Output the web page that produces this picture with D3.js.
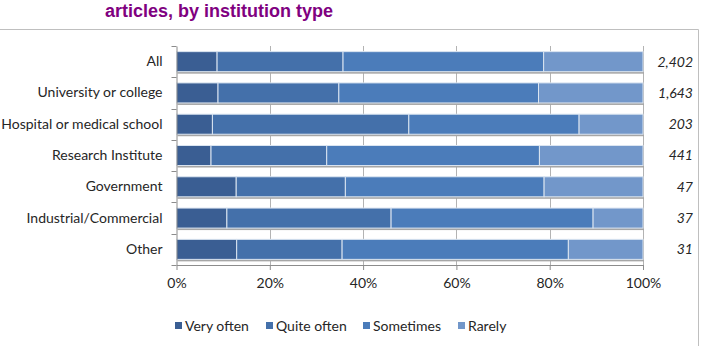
<!DOCTYPE html>
<html>
<head>
<meta charset="utf-8">
<script src="https://cdn.jsdelivr.net/npm/d3@7"></script>
<style>
  body { margin: 0; background: #fff; }
  svg { display: block; }
</style>
</head>
<body>
<div id="chart"></div>
<script>
// data (percent of respondents)
const categories = ["All", "University or college", "Hospital or medical school",
  "Research Institute", "Government", "Industrial/Commercial", "Other"];
const veryOften  = [8.7, 8.9, 7.7, 7.4, 12.8, 10.8, 12.9];
const quiteOften = [27.0, 25.9, 42.1, 24.8, 23.4, 35.2, 22.6];
const sometimes  = [43.0, 42.8, 36.5, 45.6, 42.6, 43.3, 48.5];
const rarely     = [21.3, 22.4, 13.7, 22.2, 21.2, 10.7, 16.0];
const counts     = ["2,402", "1,643", "203", "441", "47", "37", "31"];
const seriesNames = ["Very often", "Quite often", "Sometimes", "Rarely"];
const xTicks = [0, 20, 40, 60, 80, 100];

const width = 701, height = 346;
const plotLeft = 176.5, plotRight = 643, plotTop = 46, plotBottom = 265;
const colors = ["#3a5e93", "#4470aa", "#4b7cba", "#7297ca"];
const labelFont = "Lato, 'Open Sans', sans-serif";

const rows = categories.map((c, i) => ({
  cat: c,
  "Very often": veryOften[i],
  "Quite often": quiteOften[i],
  "Sometimes": sometimes[i],
  "Rarely": rarely[i]
}));

const svg = d3.select("#chart").append("svg")
  .attr("width", width)
  .attr("height", height);

// frame edge of the chart area (top and right border)
svg.append("path")
  .attr("d", "M0,29.5 H698.5 V346")
  .attr("fill", "none")
  .attr("stroke", "#bfbfbf");

// title (first line is cut off in the original)
svg.append("text")
  .attr("x", 105)
  .attr("y", 17)
  .attr("fill", "#800080")
  .style("font-family", "'Liberation Sans', Arial, sans-serif")
  .style("font-weight", "bold")
  .style("font-size", "18px")
  .text("articles, by institution type");

const x = d3.scaleLinear().domain([0, 100]).range([plotLeft, plotRight]);
const y = d3.scaleBand().domain(categories).range([plotTop, plotBottom])
  .paddingInner(0.36).paddingOuter(0.18);

// vertical gridlines
svg.append("g")
  .selectAll("line")
  .data(xTicks.slice(1))
  .enter()
  .append("line")
  .attr("x1", d => Math.round(x(d)) + 0.5)
  .attr("x2", d => Math.round(x(d)) + 0.5)
  .attr("y1", plotTop)
  .attr("y2", plotBottom)
  .attr("stroke", "#b3b3b3");

// bars
const stack = d3.stack().keys(seriesNames);
const stacked = stack(rows);

// drop shadow under each bar
svg.append("g")
  .selectAll("rect")
  .data(rows)
  .enter()
  .append("rect")
  .attr("x", x(0) + 1)
  .attr("y", d => y(d.cat) + 2)
  .attr("width", x(100) - x(0))
  .attr("height", y.bandwidth())
  .attr("fill", "#a6a6a6");

stacked.forEach((s, k) => {
  svg.append("g")
    .selectAll("rect")
    .data(s)
    .enter()
    .append("rect")
    .attr("x", d => x(d[0]))
    .attr("y", d => y(d.data.cat))
    .attr("width", d => x(d[1]) - x(d[0]))
    .attr("height", y.bandwidth())
    .attr("fill", colors[k])
    .attr("stroke", "#dbe5f1")
    .attr("stroke-width", 1);
});

// left axis
const yAxis = d3.axisLeft(y).tickSize(0).tickPadding(14);
const ya = svg.append("g")
  .attr("transform", `translate(${plotLeft},0)`)
  .call(yAxis);
ya.select(".domain").attr("stroke", "#8c8c8c");
ya.selectAll("text")
  .style("font-family", labelFont)
  .style("font-size", "14px")
  .attr("fill", "#262626");

// category boundary ticks on the left axis
svg.append("g")
  .selectAll("line")
  .data(d3.range(categories.length + 1))
  .enter()
  .append("line")
  .attr("x1", plotLeft - 5)
  .attr("x2", plotLeft)
  .attr("y1", i => Math.round(plotTop + i * y.step()) + 0.5)
  .attr("y2", i => Math.round(plotTop + i * y.step()) + 0.5)
  .attr("stroke", "#8c8c8c");

// bottom axis
const xAxis = d3.axisBottom(x).tickValues(xTicks)
  .tickFormat(d => d + "%").tickSize(5).tickPadding(8).tickSizeOuter(0);
const xa = svg.append("g")
  .attr("transform", `translate(0,${plotBottom})`)
  .call(xAxis);
xa.select(".domain").attr("stroke", "#8c8c8c");
xa.selectAll(".tick line").attr("stroke", "#8c8c8c");
xa.selectAll("text")
  .style("font-family", labelFont)
  .style("font-size", "14px")
  .attr("fill", "#262626");

// counts on the right
svg.append("g")
  .selectAll("text")
  .data(counts)
  .enter()
  .append("text")
  .attr("x", 693)
  .attr("y", (d, i) => y(categories[i]) + y.bandwidth() / 2)
  .attr("dy", "0.35em")
  .attr("text-anchor", "end")
  .style("font-family", labelFont)
  .style("font-style", "italic")
  .style("font-size", "14px")
  .attr("fill", "#262626")
  .text(d => d);

// legend
const legendX = [175, 266, 363, 458];
const legend = svg.append("g")
  .selectAll("g")
  .data(seriesNames)
  .enter()
  .append("g")
  .attr("transform", (d, i) => `translate(${legendX[i]},326)`);
legend.append("rect")
  .attr("x", 0)
  .attr("y", -4)
  .attr("width", 7)
  .attr("height", 7)
  .attr("fill", (d, i) => colors[i]);
legend.append("text")
  .attr("x", 10)
  .attr("y", 0)
  .attr("dy", "0.35em")
  .style("font-family", labelFont)
  .style("font-size", "14px")
  .attr("fill", "#262626")
  .text(d => d);
</script>
</body>
</html>
